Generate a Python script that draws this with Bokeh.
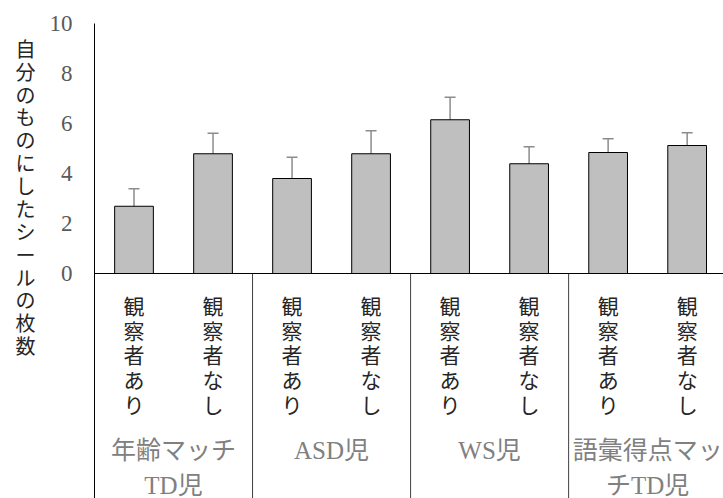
from bokeh.plotting import figure
from bokeh.layouts import row
from bokeh.models import ColumnDataSource, Span, Whisker, TeeHead, FixedTicker, Range1d
from bokeh.core.properties import value
from bokeh.embed import file_html
from bokeh.resources import INLINE

# ---- data ----
groups = ["年齢マッチ\nTD児", "ASD児", "WS児", "語彙得点マッ\nチTD児"]
conditions = ["観察者あり", "観察者なし"]
means = [2.69, 4.79, 3.80, 4.79, 6.15, 4.39, 4.84, 5.12]
errors = [0.70, 0.82, 0.85, 0.92, 0.90, 0.68, 0.55, 0.51]
y_ticks = [0, 2, 4, 6, 8, 10]
y_title = "自分のものにしたシールの枚数"

SERIF = "'Liberation Serif', 'Noto Sans CJK JP'"

n = len(means)
xs = list(range(n))
cat_text = ["\n".join(conditions[i % 2]) for i in xs]
src = ColumnDataSource(dict(
    x=xs, top=means,
    upper=[m + e for m, e in zip(means, errors)],
    lower=[m - e for m, e in zip(means, errors)],
    label=cat_text,
))

# ---- left strip holding the stacked y-axis title ----
t = figure(width=46, height=498, output_backend="svg", toolbar_location=None,
           x_range=Range1d(0, 46), y_range=Range1d(498, 0),
           x_axis_location=None, y_axis_location=None,
           min_border_left=0, min_border_right=0, min_border_top=0, min_border_bottom=0)
t.outline_line_color = None
t.xgrid.visible = False
t.ygrid.visible = False
t.text(x=[25], y=[16], text=["\n".join(y_title)],
       text_font=value(SERIF), text_font_size="20px", text_color="#262626",
       text_align="center", text_baseline="top", text_line_height=1.04)

# ---- main chart ----
p = figure(width=677, height=498, output_backend="svg", toolbar_location=None,
           x_range=Range1d(-0.5, 7.46), y_range=Range1d(-9, 10),
           x_axis_location=None, min_border_left=48, min_border_right=0,
           min_border_top=23, min_border_bottom=0)
p.outline_line_color = None
p.xgrid.visible = False
p.ygrid.visible = False

ax = p.yaxis[0]
ax.ticker = FixedTicker(ticks=y_ticks)
ax.minor_tick_line_color = None
ax.major_tick_out = 0
ax.major_tick_in = 0
ax.major_label_standoff = 22
ax.major_label_text_font = SERIF
ax.major_label_text_font_size = "23px"
ax.major_label_text_color = "#595959"
ax.axis_line_color = "black"
ax.axis_line_width = 1

# bars
p.vbar(x="x", top="top", bottom=0, width=0.49, source=src,
       fill_color="#bfbfbf", line_color="black", line_width=1)

# error bars
w = Whisker(base="x", upper="upper", lower="lower", source=src,
            line_color="#8c8c8c", line_width=1.5,
            upper_head=TeeHead(size=11, line_color="#8c8c8c", line_width=1.5),
            lower_head=TeeHead(size=11, line_color="#8c8c8c", line_width=1.5))
p.add_layout(w)

# zero line
p.add_layout(Span(location=0, dimension="width", line_color="black", line_width=1))

# group separators
seps = [2 * g + 1.5 for g in range(len(groups) - 1)]
p.segment(x0=seps, y0=[0] * len(seps), x1=seps, y1=[-9] * len(seps),
          line_color="#404040", line_width=1)

# category labels (vertical)
p.text(x="x", y=-0.86, text="label", source=src,
       text_font=value(SERIF), text_font_size="21px", text_color="#262626",
       text_align="center", text_baseline="top", text_line_height=1.03)

# group labels
gsrc = ColumnDataSource(dict(x=[2 * g + 0.5 for g in range(len(groups))], text=groups))
p.text(x="x", y=-6.52, text="text", source=gsrc,
       text_font=value(SERIF), text_font_size="25px", text_color="#808080",
       text_align="center", text_baseline="top", text_line_height=1.30)

layout = row(t, p, spacing=0)
open("out.html", "w").write(file_html(layout, INLINE))
